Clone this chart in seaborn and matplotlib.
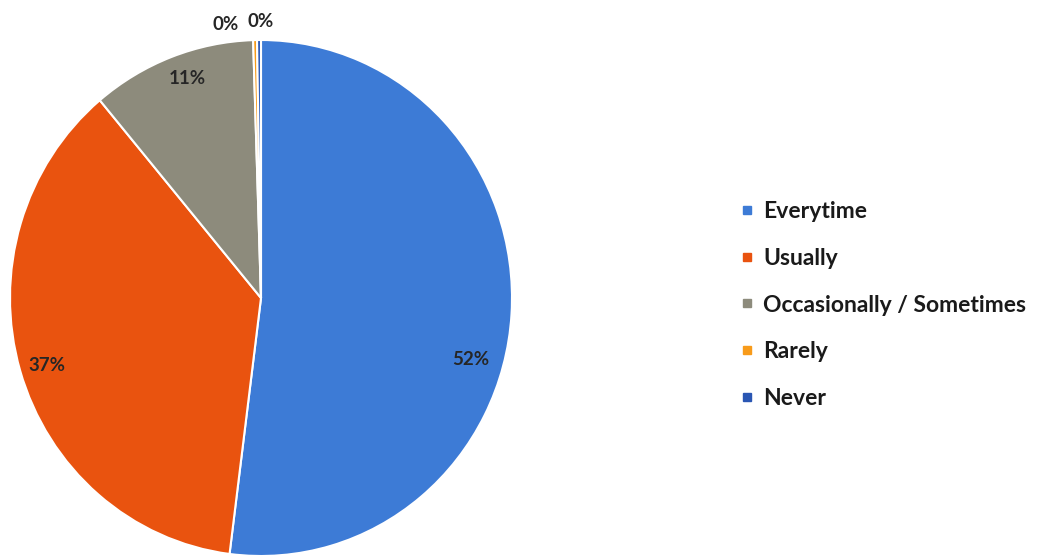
import numpy as np
import seaborn as sns
import matplotlib.pyplot as plt
from matplotlib.lines import Line2D

categories = ['Everytime', 'Usually', 'Occasionally / Sometimes', 'Rarely', 'Never']
values = [52.0, 36.9, 10.6, 0.25, 0.25]
colors = ['#3d7bd6', '#e9530f', '#8d8b7c', '#f89b1a', '#2a56b3']

# label placement (angle clockwise from top, radius) roughly as in the original
label_angles = [106, 253, 341, 352.5, 0]
label_radii = [0.87, 0.89, 0.90, 1.07, 1.07]

sns.set_theme(style='white')
plt.rcParams['font.family'] = ['Lato', 'DejaVu Sans']

fig = plt.figure(figsize=(10.45, 5.58), dpi=100)
W, H = 1045, 558
rx, ry = 251, 258          # scan is slightly stretched vertically
lim = 1.2
cx, cy = 261, 558 - 298
ax = fig.add_axes([(cx - lim * rx) / W, (cy - lim * ry) / H, 2 * lim * rx / W, 2 * lim * ry / H])

wedges, texts, autotexts = ax.pie(
    values, colors=colors, startangle=90, counterclock=False,
    autopct='%.0f%%', wedgeprops=dict(edgecolor='white', linewidth=1.5),
    textprops=dict(fontsize=13.5, fontweight='bold', color='#262626'))
for t, a, r in zip(autotexts, label_angles, label_radii):
    th = np.deg2rad(a)
    t.set_position((r * np.sin(th), r * np.cos(th)))
ax.set_xlim(-lim, lim)
ax.set_ylim(-lim, lim)
ax.set_aspect('auto')
ax.axis('off')

handles = [Line2D([], [], marker='s', linestyle='', markersize=6,
                  markerfacecolor=c, markeredgecolor=c) for c in colors]
fig.legend(handles, categories, loc='center left', bbox_to_anchor=(721 / W, 1 - 305 / H),
           frameon=False, prop=dict(size=16.5, weight='bold'), labelcolor='#1a1a1a',
           handlelength=0.5, handletextpad=0.45, labelspacing=1.12)

fig.savefig('out.png', dpi=100, facecolor='white')
